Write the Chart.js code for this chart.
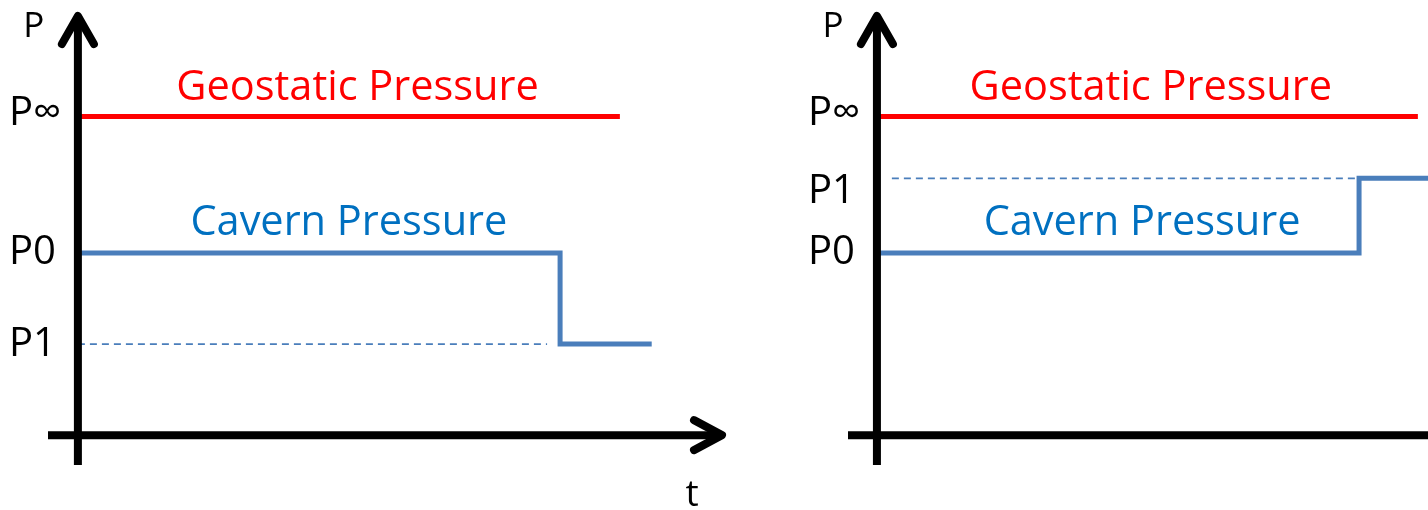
<!DOCTYPE html>
<html>
<head>
<meta charset="utf-8">
<script src="https://cdn.jsdelivr.net/npm/chart.js@4.4.1/dist/chart.umd.min.js"></script>
<style>
  html, body { margin: 0; padding: 0; background: #fff; overflow: hidden; }
  canvas { position: absolute; top: 0; }
  #left { left: 0; }
  #right { left: 790px; }
</style>
</head>
<body>
<canvas id="left" width="760" height="510"></canvas>
<canvas id="right" width="638" height="510"></canvas>
<script>
// pressure levels
var P_INF = 8.75;
var P0 = 5;
var P1_DROP = 2.5;
var P1_RISE = 7.05;

// left panel: pressure drop
var geoTimeLeft = [0, 11.24];
var geoLeft = [P_INF, P_INF];
var cavTimeLeft = [0, 10, 11.9];
var cavLeft = [P0, P1_DROP, P1_DROP];
var refTimeLeft = [0, 9.73];
var refLeft = [P1_DROP, P1_DROP];
var tickLabelsLeft = ['P\u221e', 'P0', 'P1'];
var tickValuesLeft = [P_INF, P0, P1_DROP];

// right panel: pressure rise
var geoTimeRight = [0, 11.22];
var geoRight = [P_INF, P_INF];
var cavTimeRight = [0, 10, 12];
var cavRight = [P0, P1_RISE, P1_RISE];
var refTimeRight = [0.31, 10];
var refRight = [P1_RISE, P1_RISE];
var tickLabelsRight = ['P\u221e', 'P1', 'P0'];
var tickValuesRight = [P_INF, P1_RISE, P0];

var RED = '#ff0000';
var BLUE_LINE = '#4a7ebb';
var BLUE_TEXT = '#0070c0';
var FONT = '"Open Sans", "Noto Sans", sans-serif';

function pts(xs, ys) {
    return xs.map(function(x, i) { return { x: x, y: ys[i] }; });
}

// draws axes with arrows, tick labels and the two captions
var diagramPlugin = {
    id: 'diagram',
    afterDatasetsDraw: function(chart, args, opts) {
        var ctx = chart.ctx;
        var xs = chart.scales.x, ys = chart.scales.y;
        var area = chart.chartArea;
        var ax = xs.getPixelForValue(0);
        var ay = ys.getPixelForValue(0);

        ctx.save();
        ctx.strokeStyle = '#000';
        ctx.lineWidth = 8;

        // y axis
        ctx.lineCap = 'butt';
        ctx.beginPath();
        ctx.moveTo(ax, area.bottom);
        ctx.lineTo(ax, area.top + 3);
        ctx.stroke();
        // x axis
        ctx.beginPath();
        ctx.moveTo(area.left, ay);
        ctx.lineTo(opts.xArrow ? area.right - 3 : area.right, ay);
        ctx.stroke();

        ctx.lineCap = 'round';
        ctx.lineJoin = 'round';
        ctx.beginPath();
        ctx.moveTo(ax - 16, area.top + 31);
        ctx.lineTo(ax, area.top + 3);
        ctx.lineTo(ax + 16, area.top + 31);
        ctx.stroke();
        if (opts.xArrow) {
            ctx.beginPath();
            ctx.moveTo(area.right - 31, ay - 15);
            ctx.lineTo(area.right - 3, ay);
            ctx.lineTo(area.right - 31, ay + 15);
            ctx.stroke();
        }

        // axis names
        ctx.fillStyle = '#000';
        ctx.textAlign = 'center';
        ctx.textBaseline = 'alphabetic';
        ctx.font = '35px ' + FONT;
        ctx.fillText('P', ax - 44, 37);
        if (opts.xArrow) {
            ctx.font = '37px ' + FONT;
            ctx.fillText('t', area.right - 33, 506);
        }

        // pressure level labels
        ctx.font = '40px ' + FONT;
        ctx.textAlign = 'left';
        opts.tickLabels.forEach(function(lbl, i) {
            var y = ys.getPixelForValue(opts.tickValues[i]);
            ctx.fillText(lbl, ax - 69, y + opts.labelShift[i]);
        });

        // captions
        ctx.font = '41.5px ' + FONT;
        ctx.textAlign = 'center';
        opts.captions.forEach(function(c) {
            ctx.fillStyle = c.color;
            ctx.fillText(c.text, xs.getPixelForValue(c.t), ys.getPixelForValue(c.p));
        });
        ctx.restore();
    }
};

function makeChart(id, geoT, geo, cavT, cav, refT, ref, scaleX, pad, diag) {
    return new Chart(document.getElementById(id), {
        type: 'line',
        data: {
            datasets: [{
                data: pts(refT, ref),
                borderColor: BLUE_LINE,
                borderWidth: 1.6,
                borderDash: [7, 5],
                pointRadius: 0
            }, {
                data: pts(geoT, geo),
                borderColor: RED,
                borderWidth: 5,
                pointRadius: 0
            }, {
                data: pts(cavT, cav),
                borderColor: BLUE_LINE,
                borderWidth: 5,
                stepped: 'before',
                pointRadius: 0
            }]
        },
        options: {
            responsive: false,
            animation: false,
            events: [],
            layout: { padding: pad },
            plugins: {
                legend: { display: false },
                tooltip: { enabled: false },
                diagram: diag
            },
            scales: {
                x: { type: 'linear', min: scaleX[0], max: scaleX[1], display: false },
                y: { type: 'linear', min: -0.82, max: 11.59, display: false }
            }
        },
        plugins: [diagramPlugin]
    });
}

makeChart('left', geoTimeLeft, geoLeft, cavTimeLeft, cavLeft, refTimeLeft, refLeft,
    [-0.62, 13.42], { left: 48, right: 35, top: 13, bottom: 45 }, {
        xArrow: true,
        tickLabels: tickLabelsLeft,
        tickValues: tickValuesLeft,
        labelShift: [9, 11, 12],
        captions: [
            { text: 'Geostatic Pressure', t: 5.8, p: 9.2, color: RED },
            { text: 'Cavern Pressure', t: 5.62, p: 5.49, color: BLUE_TEXT }
        ]
    });

makeChart('right', geoTimeRight, geoRight, cavTimeRight, cavRight, refTimeRight, refRight,
    [-0.6, 11.43], { left: 58, right: 0, top: 13, bottom: 45 }, {
        xArrow: false,
        tickLabels: tickLabelsRight,
        tickValues: tickValuesRight,
        labelShift: [9, 25, 11],
        captions: [
            { text: 'Geostatic Pressure', t: 5.68, p: 9.2, color: RED },
            { text: 'Cavern Pressure', t: 5.5, p: 5.49, color: BLUE_TEXT }
        ]
    });
</script>
</body>
</html>
